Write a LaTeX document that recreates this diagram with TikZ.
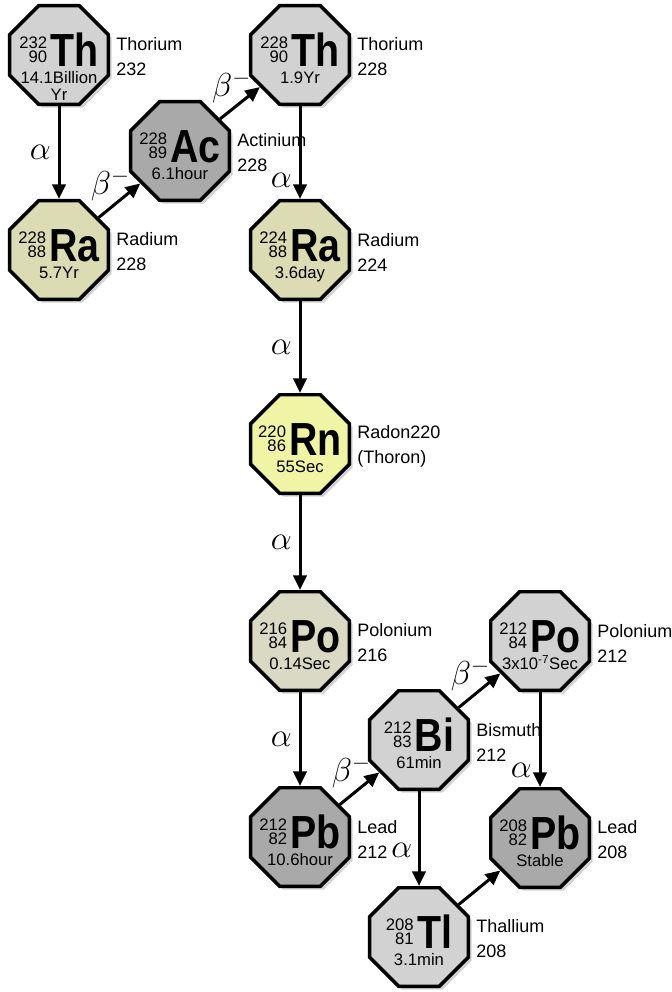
\documentclass[tikz,border=0pt]{standalone}
\usepackage{graphicx}
\usepackage{fontspec}
\setmainfont{Liberation Sans}
\usetikzlibrary{calc,shapes.geometric,arrows.meta,shadows}

\definecolor{grayL}{HTML}{D2D2D2}
\definecolor{grayD}{HTML}{A9A9A9}
\definecolor{khaki}{HTML}{DCDCB4}
\definecolor{khakiG}{HTML}{D9D9C4}
\definecolor{radon}{HTML}{F0F5A5}

% mass number over atomic number
\newcommand{\numpair}[2]{\raisebox{3pt}{\fontsize{12.5}{15}\selectfont\begin{tabular}[b]{@{}r@{}}#1\\[-4.5pt]#2\end{tabular}}}
% inside of one octagon
\newcommand{\isobox}[4]{%
  \begin{tabular}[t]{@{}c@{}}
    \numpair{#1}{#2}\hspace{2.5pt}\scalebox{1}[1.18]{\fontsize{29.5}{30}\selectfont\bfseries #3}\\[-2pt]
    \begin{tabular}[t]{@{}c@{}}#4\end{tabular}
  \end{tabular}}
% name, position, fill, mass, Z, symbol, half-life, element, number
\newcommand{\nuclide}[9]{%
  \node[octa, fill=#3] (#1) at (#2) {};
  \node[isotxt] (#1-txt) at ($(#1)+(0,11)$) {\isobox{#4}{#5}{#6}{#7}};
  \node[sidetxt] (#1-lbl) at ($(#1)+(57,2)$) {#8\\#9};
}

\tikzset{
  octa/.style={regular polygon, regular polygon sides=8, minimum size=80pt,
    inner sep=0pt, draw=black, line width=2.6pt,
    drop shadow={opacity=0.35, shadow xshift=2.5pt, shadow yshift=-2.5pt}},
  isotxt/.style={anchor=base, inner sep=0pt, font=\fontsize{12.5}{15}\selectfont},
  sidetxt/.style={anchor=west, align=left, inner sep=0pt, font=\fontsize{13.5}{18.75}\selectfont},
  decay/.style={line width=2.25pt, -{Triangle[length=11pt,width=10pt]}},
  greek/.style={inner sep=1pt, font=\fontsize{26}{26}\selectfont},
  betalbl/.style={greek, pos=0, anchor=south west, xshift=-8pt, yshift=10pt}
}

\begin{document}
\begin{tikzpicture}[x=0.75pt, y=-0.75pt]
\useasboundingbox (0,0) rectangle (671,992);

\nuclide{th232}{59,55}{grayL}{232}{90}{Th}{14.1Billion\\[-2pt]Yr}{Thorium}{232}
\nuclide{ra228}{59,250}{khaki}{228}{88}{Ra}{5.7Yr}{Radium}{228}
\nuclide{ac228}{180,151}{grayD}{228}{89}{Ac}{6.1hour}{Actinium}{228}
\nuclide{th228}{300,55}{grayL}{228}{90}{Th}{1.9Yr}{Thorium}{228}
\nuclide{ra224}{300,250}{khaki}{224}{88}{Ra}{3.6day}{Radium}{224}
\nuclide{rn220}{300,444}{radon}{220}{86}{Rn}{55Sec}{Radon220}{(Thoron)}
\nuclide{po216}{300,641}{khakiG}{216}{84}{Po}{0.14Sec}{Polonium}{216}
\nuclide{pb212}{300,837}{grayD}{212}{82}{Pb}{10.6hour}{Lead}{212}
\nuclide{bi212}{419,740}{grayL}{212}{83}{Bi}{61min}{Bismuth}{212}
\nuclide{po212}{540,641}{grayL}{212}{84}{Po}{3x10\textsuperscript{-7}Sec}{Polonium}{212}
\nuclide{pb208}{540,838}{grayD}{208}{82}{Pb}{Stable}{Lead}{208}
\nuclide{tl208}{419,937}{grayL}{208}{81}{Tl}{3.1min}{Thallium}{208}

% decays
\draw[decay] (th232) -- node[greek, left=4pt, pos=0.5] (al1) {$\alpha$} (ra228);
\draw[decay] (ra228) -- node[betalbl] (be1) {$\beta^-$} (ac228);
\draw[decay] (ac228) -- node[betalbl] (be2) {$\beta^-$} (th228);
\draw[decay] (th228) -- node[greek, left=4pt, pos=0.8] (al2) {$\alpha$} (ra224);
\draw[decay] (ra224) -- node[greek, left=4pt, pos=0.5] (al3) {$\alpha$} (rn220);
\draw[decay] (rn220) -- node[greek, left=4pt, pos=0.5] (al4) {$\alpha$} (po216);
\draw[decay] (po216) -- node[greek, left=4pt, pos=0.5] (al5) {$\alpha$} (pb212);
\draw[decay] (pb212) -- node[betalbl] (be3) {$\beta^-$} (bi212);
\draw[decay] (bi212) -- node[betalbl] (be4) {$\beta^-$} (po212);
\draw[decay] (bi212) -- node[greek, left=3pt, pos=0.62] (al6) {$\alpha$} (tl208);
\draw[decay] (po212) -- node[greek, left=4pt, pos=0.82] (al7) {$\alpha$} (pb208);
\draw[decay] (tl208) -- (pb208);
\end{tikzpicture}
\end{document}
